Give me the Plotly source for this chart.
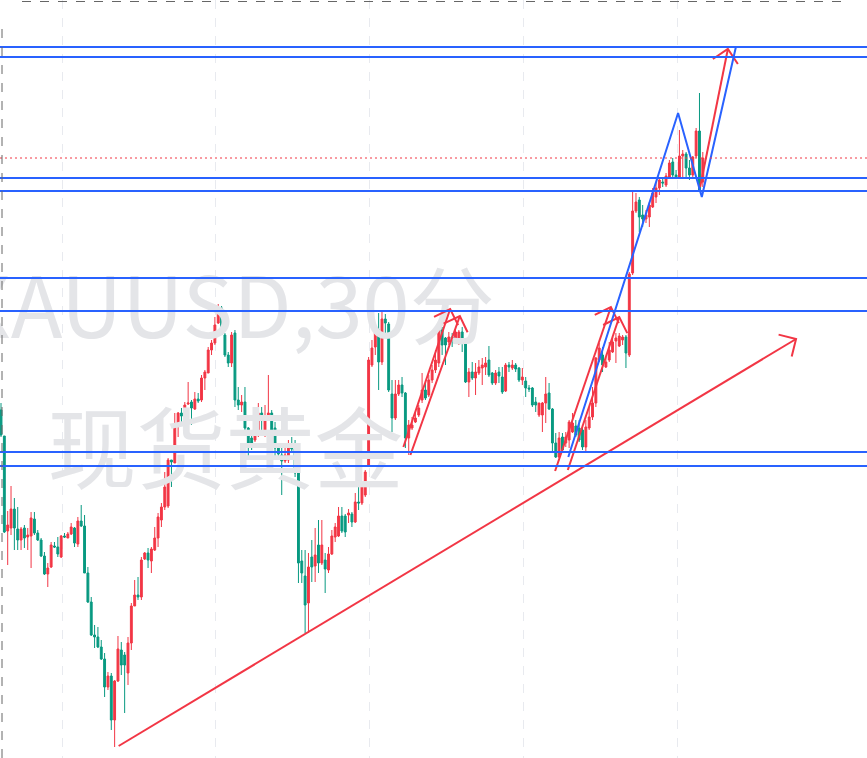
import math
import plotly.graph_objects as go

# ---------------- data (chart price units) ----------------
opens = [
    348, 322, 227, 230, 249, 229, 218, 230, 221, 222,
    239, 225, 218, 202, 184, 191, 212, 211, 201, 222,
    220, 224, 230, 214, 237, 232, 185, 156, 123, 121,
    111, 99, 71, 82, 38, 77, 108, 103, 85, 115,
    152, 163, 161, 199, 205, 197, 208, 220, 238, 251,
    252, 298, 295, 332, 345, 342, 354, 356, 349, 359,
    358, 380, 385, 408, 415, 435, 450, 423, 403, 395,
    425, 358, 353, 356, 330, 320, 318, 327, 345, 326,
    341, 345, 330, 310, 303, 297, 298, 312, 309, 285,
    197, 182, 155, 201, 192, 213, 195, 198, 188, 204,
    221, 222, 242, 242, 243, 244, 236, 256, 255, 263,
    293, 393, 411, 428, 396, 439, 434, 364, 340, 364,
    373, 365, 320, 330, 336, 343, 358, 368, 363, 378,
    388, 395, 428, 420, 416, 421, 418, 418, 426, 417,
    376, 386, 380, 385, 390, 391, 398, 385, 375, 386,
    381, 367, 393, 390, 393, 390, 378, 377, 370, 370,
    356, 343, 343, 355, 365, 349, 315, 301, 321, 315,
    318, 326, 332, 330, 328, 311, 330, 341, 355, 398,
    403, 391, 398, 406, 417, 412, 418, 421, 403, 485,
    547, 558, 543, 539, 541, 551, 561, 570, 576, 573,
    581, 596, 583, 581, 602, 604, 590, 583, 602, 627, 576,
]
highs = [
    355, 322, 247, 272, 260, 251, 231, 233, 230, 246,
    246, 228, 220, 206, 195, 216, 216, 221, 223, 225,
    226, 235, 231, 241, 253, 243, 191, 161, 133, 131,
    118, 105, 86, 85, 78, 122, 116, 106, 121, 155,
    178, 181, 201, 206, 210, 211, 231, 245, 255, 286,
    300, 298, 345, 346, 350, 356, 376, 358, 366, 365,
    383, 388, 411, 418, 441, 454, 452, 425, 406, 426,
    428, 371, 363, 371, 331, 323, 343, 355, 351, 353,
    383, 348, 336, 313, 311, 310, 318, 321, 318, 286,
    208, 208, 205, 218, 230, 238, 238, 205, 211, 228,
    235, 251, 251, 244, 249, 246, 265, 271, 273, 288,
    401, 418, 430, 445, 447, 444, 436, 378, 378, 378,
    381, 366, 338, 341, 345, 353, 385, 375, 383, 393,
    408, 431, 431, 421, 426, 425, 431, 428, 431, 420,
    390, 396, 395, 398, 400, 401, 412, 386, 388, 391,
    391, 395, 396, 398, 395, 391, 390, 381, 373, 371,
    361, 355, 356, 381, 375, 350, 325, 326, 325, 326,
    338, 345, 338, 338, 331, 338, 351, 371, 401, 415,
    411, 401, 416, 421, 425, 425, 423, 423, 486, 566,
    565, 561, 553, 548, 556, 570, 576, 581, 580, 585,
    598, 600, 588, 628, 608, 606, 598, 602, 630, 665, 606,
]
lows = [
    321, 225, 193, 223, 208, 208, 208, 210, 208, 190,
    223, 217, 201, 183, 171, 190, 210, 201, 200, 220,
    220, 223, 211, 211, 231, 185, 155, 122, 110, 110,
    98, 61, 68, 28, 11, 76, 83, 45, 73, 108,
    152, 158, 158, 198, 190, 185, 207, 211, 231, 248,
    250, 271, 295, 321, 333, 341, 353, 333, 348, 355,
    356, 368, 385, 403, 413, 434, 423, 401, 391, 391,
    351, 348, 346, 326, 300, 308, 316, 321, 326, 321,
    340, 326, 301, 298, 263, 295, 295, 305, 281, 175,
    175, 125, 125, 176, 176, 185, 193, 165, 185, 203,
    216, 221, 225, 221, 235, 231, 235, 248, 253, 261,
    291, 391, 403, 368, 393, 425, 366, 326, 338, 362,
    361, 310, 303, 328, 335, 341, 355, 358, 361, 375,
    385, 391, 403, 393, 413, 411, 415, 413, 406, 375,
    361, 378, 363, 383, 373, 383, 381, 373, 373, 375,
    364, 366, 386, 388, 386, 376, 373, 361, 366, 351,
    346, 341, 326, 335, 348, 305, 300, 300, 306, 311,
    310, 325, 321, 316, 308, 305, 328, 338, 351, 396,
    386, 390, 396, 405, 395, 411, 413, 390, 401, 483,
    545, 526, 531, 535, 531, 550, 555, 563, 571, 571,
    580, 581, 580, 579, 581, 581, 578, 581, 600, 566, 571,
]
closes = [
    323, 226, 233, 249, 230, 218, 229, 220, 223, 240,
    225, 218, 202, 184, 190, 213, 211, 204, 222, 221,
    224, 231, 215, 237, 232, 185, 156, 123, 121, 111,
    99, 71, 82, 38, 77, 109, 93, 93, 115, 152,
    163, 161, 198, 205, 198, 209, 220, 241, 251, 271,
    298, 296, 333, 345, 342, 353, 355, 350, 359, 357,
    380, 386, 408, 415, 433, 450, 424, 403, 395, 423,
    358, 353, 356, 330, 315, 315, 327, 345, 340, 341,
    345, 328, 310, 304, 297, 303, 313, 309, 285, 195,
    185, 153, 191, 191, 203, 195, 213, 189, 204, 222,
    231, 242, 227, 226, 245, 236, 256, 255, 271, 286,
    398, 410, 425, 396, 439, 435, 368, 340, 364, 373,
    365, 320, 333, 333, 340, 350, 368, 360, 378, 388,
    398, 429, 413, 413, 421, 418, 426, 426, 418, 376,
    386, 380, 386, 391, 393, 395, 383, 375, 385, 382,
    366, 393, 391, 393, 389, 378, 381, 370, 369, 353,
    353, 355, 355, 364, 349, 315, 301, 320, 308, 321,
    336, 335, 323, 318, 311, 331, 341, 355, 400, 410,
    393, 396, 408, 416, 420, 422, 421, 405, 484, 547,
    556, 541, 539, 543, 553, 565, 570, 578, 575, 582,
    595, 583, 581, 602, 604, 590, 583, 601, 627, 568, 600,
]
bars = list(range(len(opens)))

# horizontal levels (blue rays) and current price
blue_levels = [711, 701, 580, 567, 480, 447, 306, 292]
last_price = 600

# day separators (bar positions)
day_breaks = [18.3, 64.3, 110.3, 156.3, 202.3]

# drawings: (bar, price) points
trend_line = [(35.2, 12), (237.9, 419)]
red_arrows = [
    [(120.4, 311), (134.4, 449)],
    [(122.5, 303), (137.3, 442)],
    [(165.8, 287), (182.5, 451)],
    [(169.6, 288), (185.0, 441)],
    [(209.2, 571), (217.5, 709)],
]
blue_zigzag = [(169.75, 301), (202.6, 645), (209.7, 561), (219.9, 711)]

watermark_1 = "XAUUSD,30分"
watermark_2 = "现货黄金"

# ---------------- figure ----------------
W, H = 867, 758
x_range = [-0.3, 259.13]
y_range = [0, 758]
sx = W / (x_range[1] - x_range[0])   # px per bar
sy = H / (y_range[1] - y_range[0])   # px per price unit

RED = "#F23645"
GREEN = "#089981"
BLUE = "#2962FF"


def arrow_heads(p0, p1, length=18, ang=45):
    dx = (p1[0] - p0[0]) * sx
    dy = (p1[1] - p0[1]) * sy
    L = math.hypot(dx, dy)
    ux, uy = -dx / L, -dy / L
    out = []
    for a in (ang, -ang):
        r = math.radians(a)
        hx = ux * math.cos(r) - uy * math.sin(r)
        hy = ux * math.sin(r) + uy * math.cos(r)
        out.append((p1[0] + hx * length / sx, p1[1] + hy * length / sy))
    return out


fig = go.Figure()

# watermark (drawn first so it stays behind candles)
fig.add_trace(go.Scatter(
    x=[68.0], y=[441], mode="text", text=[watermark_1],
    textfont=dict(family="Noto Sans CJK SC", size=85, color="#e4e5e8"),
    hoverinfo="skip", showlegend=False))
fig.add_trace(go.Scatter(
    x=[67.2], y=[298], mode="text", text=[watermark_2],
    textfont=dict(family="Noto Sans CJK SC", size=89, color="#e4e5e8"),
    hoverinfo="skip", showlegend=False))

fig.add_trace(go.Candlestick(
    x=bars, open=opens, high=highs, low=lows, close=closes,
    increasing=dict(line=dict(color=RED, width=1), fillcolor=RED),
    decreasing=dict(line=dict(color=GREEN, width=1), fillcolor=GREEN),
    whiskerwidth=0, hoverinfo="skip", showlegend=False))


def seg_xy(points_list):
    xs, ys = [], []
    for pts in points_list:
        for p in pts:
            xs.append(p[0]); ys.append(p[1])
        xs.append(None); ys.append(None)
    return xs, ys


red_segments = []
for p0, p1 in [tuple(trend_line)] + [tuple(a) for a in red_arrows]:
    h1, h2 = arrow_heads(p0, p1)
    red_segments.append([p0, p1])
    red_segments.append([h1, p1, h2])
rx, ry = seg_xy(red_segments)
fig.add_trace(go.Scatter(x=rx, y=ry, mode="lines",
                         line=dict(color=RED, width=2),
                         hoverinfo="skip", showlegend=False))

bx, by = seg_xy([blue_zigzag])
fig.add_trace(go.Scatter(x=bx, y=by, mode="lines",
                         line=dict(color=BLUE, width=2),
                         hoverinfo="skip", showlegend=False))

shapes = []
for lv in blue_levels:
    shapes.append(dict(type="line", xref="paper", x0=0, x1=1, yref="y",
                       y0=lv, y1=lv, line=dict(color=BLUE, width=2),
                       layer="above"))
shapes.append(dict(type="line", xref="paper", x0=0, x1=1, yref="y",
                   y0=last_price, y1=last_price,
                   line=dict(color=RED, width=1, dash="2px,3px"), layer="above"))
# range borders (dashed gray)
shapes.append(dict(type="line", xref="paper", yref="paper",
                   x0=22 / W, x1=849 / W, y0=1 - 1.5 / H, y1=1 - 1.5 / H,
                   line=dict(color="#666666", width=1, dash="dash")))
shapes.append(dict(type="line", xref="paper", yref="paper",
                   x0=2 / W, x1=2 / W, y0=0, y1=1 - 25 / H,
                   line=dict(color="#666666", width=1, dash="dash")))

fig.update_layout(
    width=W, height=H,
    margin=dict(l=0, r=0, t=0, b=0),
    paper_bgcolor="white", plot_bgcolor="white",
    boxgap=0.2,
    shapes=shapes,
    showlegend=False,
    xaxis=dict(range=x_range, tickvals=day_breaks, showticklabels=False,
               showgrid=True, gridcolor="#e8eaef", griddash="dash",
               gridwidth=1, zeroline=False, showline=False, ticks="",
               rangeslider=dict(visible=False), fixedrange=True),
    yaxis=dict(range=y_range, showgrid=False, showticklabels=False,
               zeroline=False, showline=False, ticks="", fixedrange=True),
)

fig.write_html("out.html", config={"displayModeBar": False},
               post_script="document.body.style.margin='0px';")
